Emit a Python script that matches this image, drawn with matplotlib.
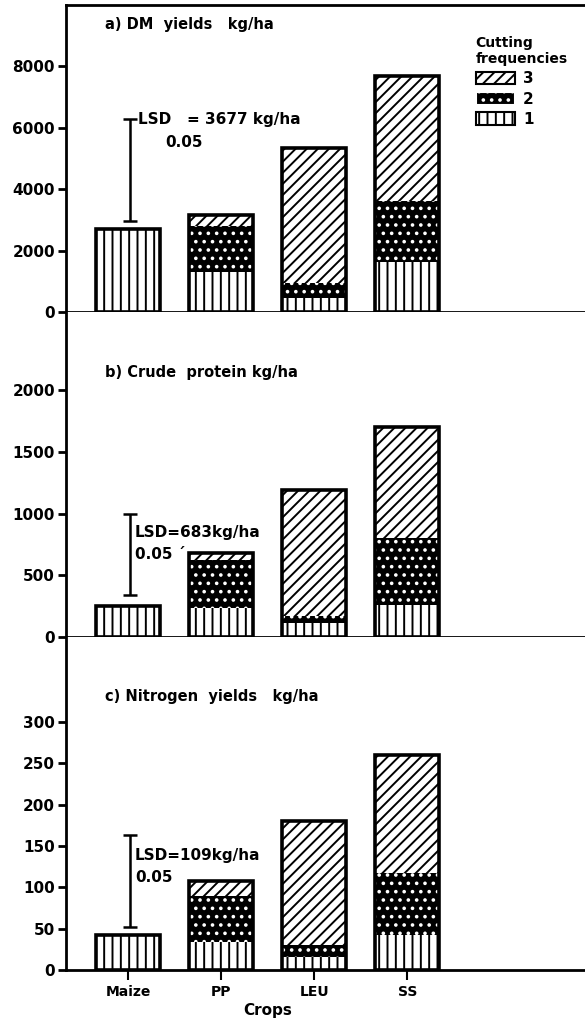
import numpy as np
import matplotlib
matplotlib.use("Agg")
import matplotlib.pyplot as plt
from matplotlib.patches import Patch

# Data
crops = ["Maize", "PP", "LEU", "SS"]

dm_cut1 = [2700, 1300, 450, 1630]
dm_cut2 = [0, 1500, 500, 2000]
dm_cut3 = [0, 350, 4400, 4070]

cp_cut1 = [250, 235, 110, 260]
cp_cut2 = [0, 385, 60, 540]
cp_cut3 = [0, 60, 1020, 900]

n_cut1 = [42, 34, 16, 42]
n_cut2 = [0, 56, 14, 75]
n_cut3 = [0, 18, 150, 143]

lsd_dm = (2950, 6300)
lsd_cp = (340, 1000)
lsd_n = (52, 163)

plt.rcParams["font.family"] = "DejaVu Sans"
plt.rcParams["font.weight"] = "bold"
plt.rcParams["hatch.linewidth"] = 1.4

fig = plt.figure(figsize=(5.85, 10.22), dpi=100)

left = 66 / 585
H = 1022
ax_a = fig.add_axes([left, 1 - 312 / H, 1 - left, 307 / H])
ax_b = fig.add_axes([left, 1 - 637 / H, 1 - left, 325 / H])
ax_c = fig.add_axes([left, 1 - 970 / H, 1 - left, 333 / H])

x = np.arange(len(crops))
w = 0.69

styles = [
    dict(facecolor="white", edgecolor="black", hatch="||"),
    dict(facecolor="black", edgecolor="white", hatch=".."),
    dict(facecolor="white", edgecolor="black", hatch="///"),
]


def draw_panel(ax, cuts, ylim, yticks, lsd, title, title_y, lsd_text, lsd_pos):
    bottom = np.zeros(len(crops))
    for vals, st in zip(cuts, styles):
        vals = np.array(vals, dtype=float)
        ax.bar(x, vals, w, bottom=bottom, linewidth=0, **st)
        bottom += vals
    ax.bar(x, bottom, w, fill=False, edgecolor="black", linewidth=2.6)

    lo, hi = lsd
    ax.errorbar(0.02, (lo + hi) / 2, yerr=(hi - lo) / 2, fmt="none",
                ecolor="black", elinewidth=1.8, capsize=5, capthick=1.8)

    ax.set_xlim(-0.67, 4.91)
    ax.set_ylim(*ylim)
    ax.set_yticks(yticks)
    ax.set_xticks(x)
    ax.spines["right"].set_visible(False)
    ax.spines["top"].set_visible(False)
    for s in ["left", "bottom"]:
        ax.spines[s].set_linewidth(2)
    ax.tick_params(axis="y", direction="out", length=6, width=2, labelsize=11, pad=2)
    ax.tick_params(axis="x", direction="out", length=7, width=1.5, labelsize=10)
    ax.text(0.075, title_y, title, transform=ax.transAxes, fontsize=10.5,
            fontweight="bold", va="center")
    ax.text(lsd_pos[0], lsd_pos[1], lsd_text[0], fontsize=11, va="center")
    ax.text(lsd_pos[2], lsd_pos[3], lsd_text[1], fontsize=11, va="center")


draw_panel(ax_a, [dm_cut1, dm_cut2, dm_cut3], (0, 10000),
           [0, 2000, 4000, 6000, 8000], lsd_dm, "a) DM  yields   kg/ha", 0.935,
           ("LSD   = 3677 kg/ha", "0.05"), (0.1, 6280, 0.4, 5520))
draw_panel(ax_b, [cp_cut1, cp_cut2, cp_cut3], (0, 2632),
           [0, 500, 1000, 1500, 2000], lsd_cp, "b) Crude  protein kg/ha", 0.815,
           ("LSD=683kg/ha", "0.05 \u00b4"), (0.07, 850, 0.07, 665))
draw_panel(ax_c, [n_cut1, n_cut2, n_cut3], (0, 403),
           [0, 50, 100, 150, 200, 250, 300], lsd_n, "c) Nitrogen  yields   kg/ha", 0.82,
           ("LSD=109kg/ha", "0.05"), (0.07, 139, 0.07, 112))

ax_a.spines["top"].set_visible(True)
ax_a.spines["top"].set_linewidth(2)
ax_a.set_xticklabels([])
ax_b.set_xticklabels([])
ax_c.set_xticklabels(crops, fontweight="bold")
fig.text(268 / 585, 1 - 1010 / H, "Crops", ha="center", va="center",
         fontsize=11, fontweight="bold")

handles = [Patch(linewidth=1.5, **dict(styles[2])),
           Patch(linewidth=1.5, **dict(styles[1], edgecolor="white")),
           Patch(linewidth=1.5, **dict(styles[0]))]
leg = fig.legend(handles, ["3", "2", "1"], loc="upper left",
                 bbox_to_anchor=(462 / 585, 1 - 22 / H), frameon=False,
                 title="Cutting\nfrequencies", alignment="left",
                 fontsize=11, title_fontsize=10, handlelength=2.6,
                 handleheight=0.9, labelspacing=0.35, handletextpad=0.5)
leg.get_title().set_fontweight("bold")

fig.savefig("out.png", dpi=100)
